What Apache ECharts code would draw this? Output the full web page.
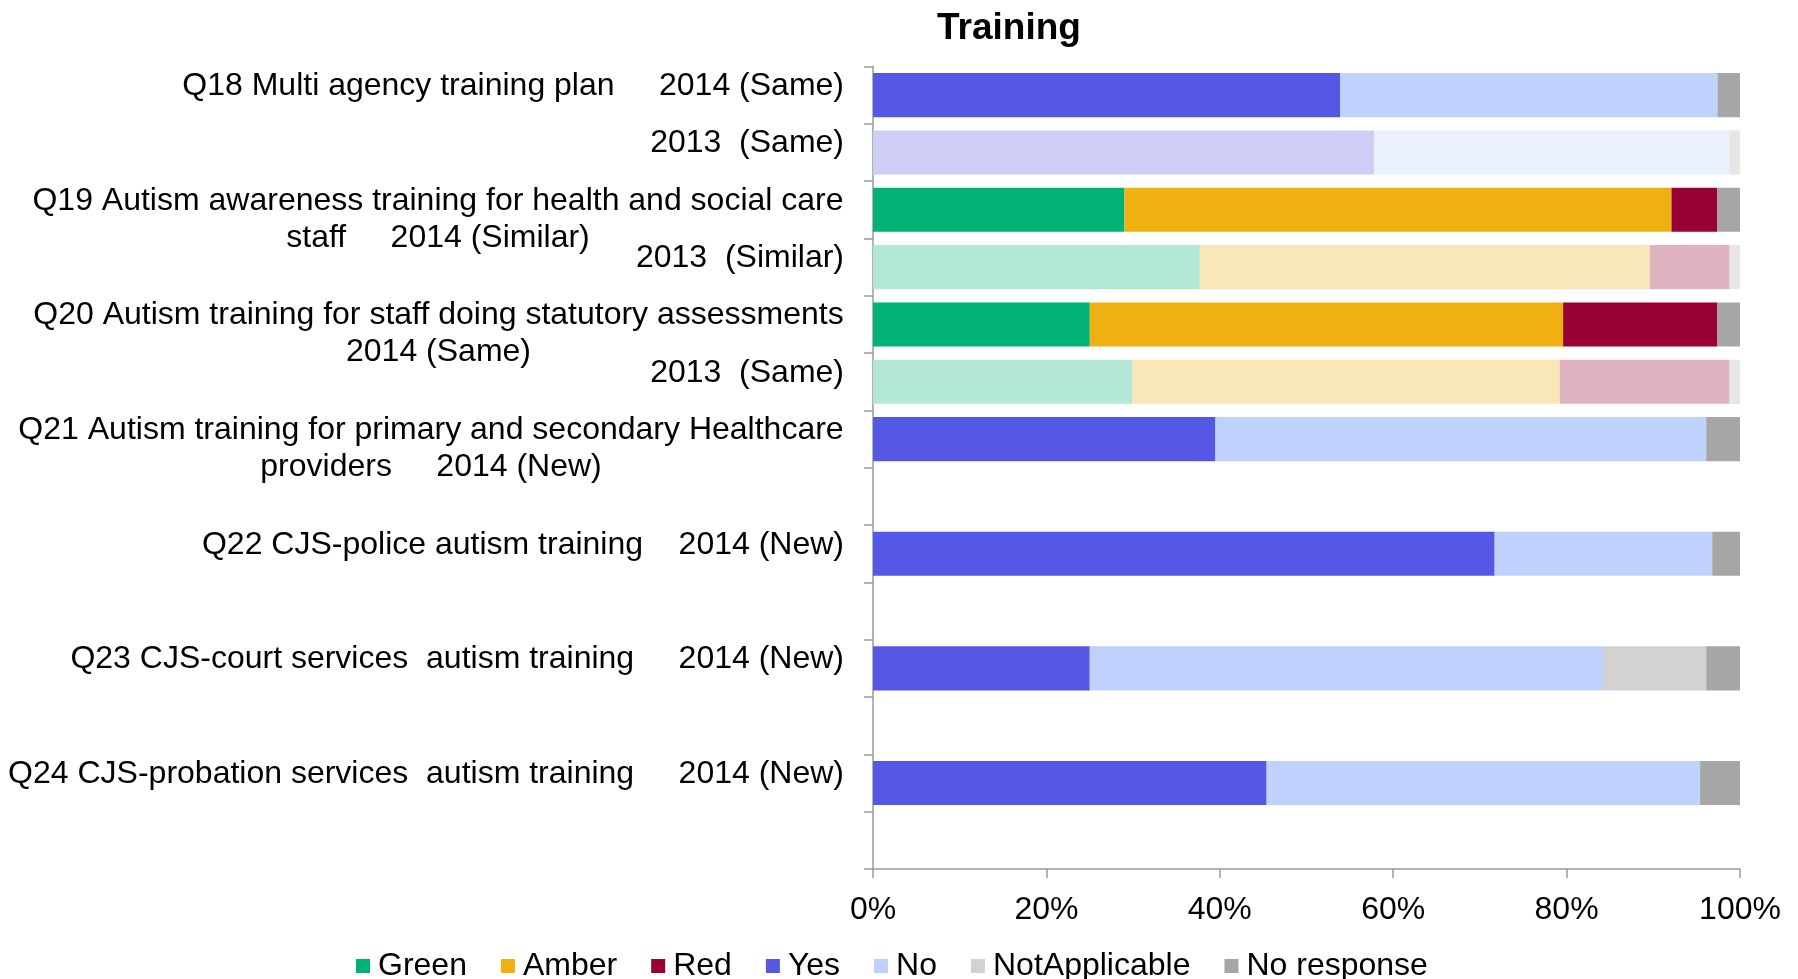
<!DOCTYPE html>
<html>
<head>
<meta charset="utf-8">
<title>Training</title>
<script src="https://cdn.jsdelivr.net/npm/echarts@6/dist/echarts.min.js"></script>
<style>
  html, body { margin: 0; padding: 0; background: #fff; }
  #chart { width: 1798px; height: 979px; }
</style>
</head>
<body>
<div id="chart"></div>
<script>
// 行（从上到下），空行保留位置
const rowKeys = ['r0', 'r1', 'r2', 'r3', 'r4', 'r5', 'r6', 'r7', 'r8', 'r9', 'r10', 'r11', 'r12', 'r13']
const rowLabels = [
  'Q18 Multi agency training plan     2014 (Same)',
  '2013  (Same)',
  'Q19 Autism awareness training for health and social care\nstaff     2014 (Similar)',
  '2013  (Similar)',
  'Q20 Autism training for staff doing statutory assessments\n2014 (Same)',
  '2013  (Same)',
  'Q21 Autism training for primary and secondary Healthcare\nproviders     2014 (New)',
  '',
  'Q22 CJS-police autism training    2014 (New)',
  '',
  'Q23 CJS-court services  autism training     2014 (New)',
  '',
  'Q24 CJS-probation services  autism training     2014 (New)',
  ''
]
// 2013 年的行用浅色
const rowYear = [2014, 2013, 2014, 2013, 2014, 2013, 2014, null, 2014, null, 2014, null, 2014, null]

// 各系列百分比
const green = [null, null, 29.0, 37.7, 25.0, 29.9, null, null, null, null, null, null, null, null]
const amber = [null, null, 63.1, 51.9, 54.6, 49.3, null, null, null, null, null, null, null, null]
const red = [null, null, 5.3, 9.2, 17.8, 19.6, null, null, null, null, null, null, null, null]
const yes = [53.9, 57.8, null, null, null, null, 39.5, null, 71.7, null, 25.0, null, 45.4, null]
const no = [43.5, 41.0, null, null, null, null, 56.6, null, 25.1, null, 59.2, null, 50.0, null]
const notApplicable = [null, null, null, null, null, null, null, null, null, null, 11.9, null, null, null]
const noResponse = [2.6, 1.2, 2.6, 1.2, 2.6, 1.2, 3.9, null, 3.2, null, 3.9, null, 4.6, null]

const seriesNames = ['Green', 'Amber', 'Red', 'Yes', 'No', 'NotApplicable', 'No response']
const seriesValues = [green, amber, red, yes, no, notApplicable, noResponse]
const xTicks = [0, 20, 40, 60, 80, 100]

// 颜色
const mainColors = ['#00B274', '#EEB111', '#990033', '#5558E5', '#BFD2FE', '#D2D2D2', '#A6A6A6']
const lightColors = ['#B3E8D6', '#F9E7B8', '#E0B3C1', '#CDCDF5', '#EAF0FE', '#E6E6E6', '#E6E6E6']

const FONT = '"Liberation Sans", Arial, sans-serif'
const FONT_SIZE = 32

// 量文字宽度，两行标签第二行居中用
const ctx = document.createElement('canvas').getContext('2d')
ctx.font = FONT_SIZE + 'px ' + FONT
function textWidth (s) {
  return Math.ceil(ctx.measureText(s).width)
}

const rich = {
  one: { fontSize: FONT_SIZE, fontFamily: FONT, color: '#000', padding: [0, 0, 18, 0] }
}
rowLabels.forEach((label, i) => {
  const lines = label.split('\n')
  if (lines.length < 2) return
  const w = textWidth(lines[0])
  rich['a' + i] = { fontSize: FONT_SIZE, fontFamily: FONT, color: '#000', lineHeight: 37, padding: [19, 0, 0, 0], width: w, align: 'center' }
  rich['b' + i] = { fontSize: FONT_SIZE, fontFamily: FONT, color: '#000', lineHeight: 37, padding: [19, 0, 0, 0], width: w, align: 'center' }
})

const series = seriesNames.map((name, s) => {
  return {
    name: name,
    type: 'bar',
    stack: 'total',
    barCategoryGap: '23%',
    itemStyle: { color: mainColors[s] },
    emphasis: { disabled: true },
    data: seriesValues[s].map((v, i) => {
      if (v === null) return null
      if (rowYear[i] === 2013) return { value: v, itemStyle: { color: lightColors[s] } }
      return v
    })
  }
})

const myChart = echarts.init(document.getElementById('chart'))
myChart.setOption({
  animation: false,
  color: mainColors,
  title: {
    text: 'Training',
    left: 1004,
    top: 5,
    textAlign: 'center',
    textStyle: { fontSize: 37, fontWeight: 'bold', fontFamily: FONT, color: '#000' }
  },
  legend: {
    data: seriesNames,
    left: 351,
    top: 945,
    itemWidth: 14,
    itemHeight: 14,
    itemGap: 34,
    icon: 'rect',
    textStyle: { fontSize: FONT_SIZE, fontFamily: FONT, color: '#000', padding: [0, 0, 0, 3] }
  },
  grid: { left: 873, right: 58, top: 66.5, bottom: 110, containLabel: false },
  xAxis: {
    type: 'value',
    min: xTicks[0],
    max: xTicks[xTicks.length - 1],
    interval: 20,
    splitLine: { show: false },
    axisLine: { show: true, lineStyle: { color: '#9a9a9a', width: 1.5 } },
    axisTick: { show: true, length: 9, lineStyle: { color: '#9a9a9a', width: 1.5 } },
    axisLabel: { margin: 25, fontSize: FONT_SIZE, fontFamily: FONT, color: '#000', formatter: '{value}%' }
  },
  yAxis: {
    type: 'category',
    inverse: true,
    data: rowKeys,
    axisLine: { show: true, lineStyle: { color: '#9a9a9a', width: 1.5 } },
    axisTick: { show: true, length: 9, lineStyle: { color: '#9a9a9a', width: 1.5 } },
    axisLabel: {
      interval: 0,
      margin: 29,
      rich: rich,
      formatter: (value, index) => {
        const label = rowLabels[index]
        if (!label) return ''
        const lines = label.split('\n')
        if (lines.length === 1) return '{one|' + label + '}'
        return '{a' + index + '|' + lines[0] + '}\n{b' + index + '|' + lines[1] + '}'
      }
    }
  },
  series: series
})
</script>
</body>
</html>
